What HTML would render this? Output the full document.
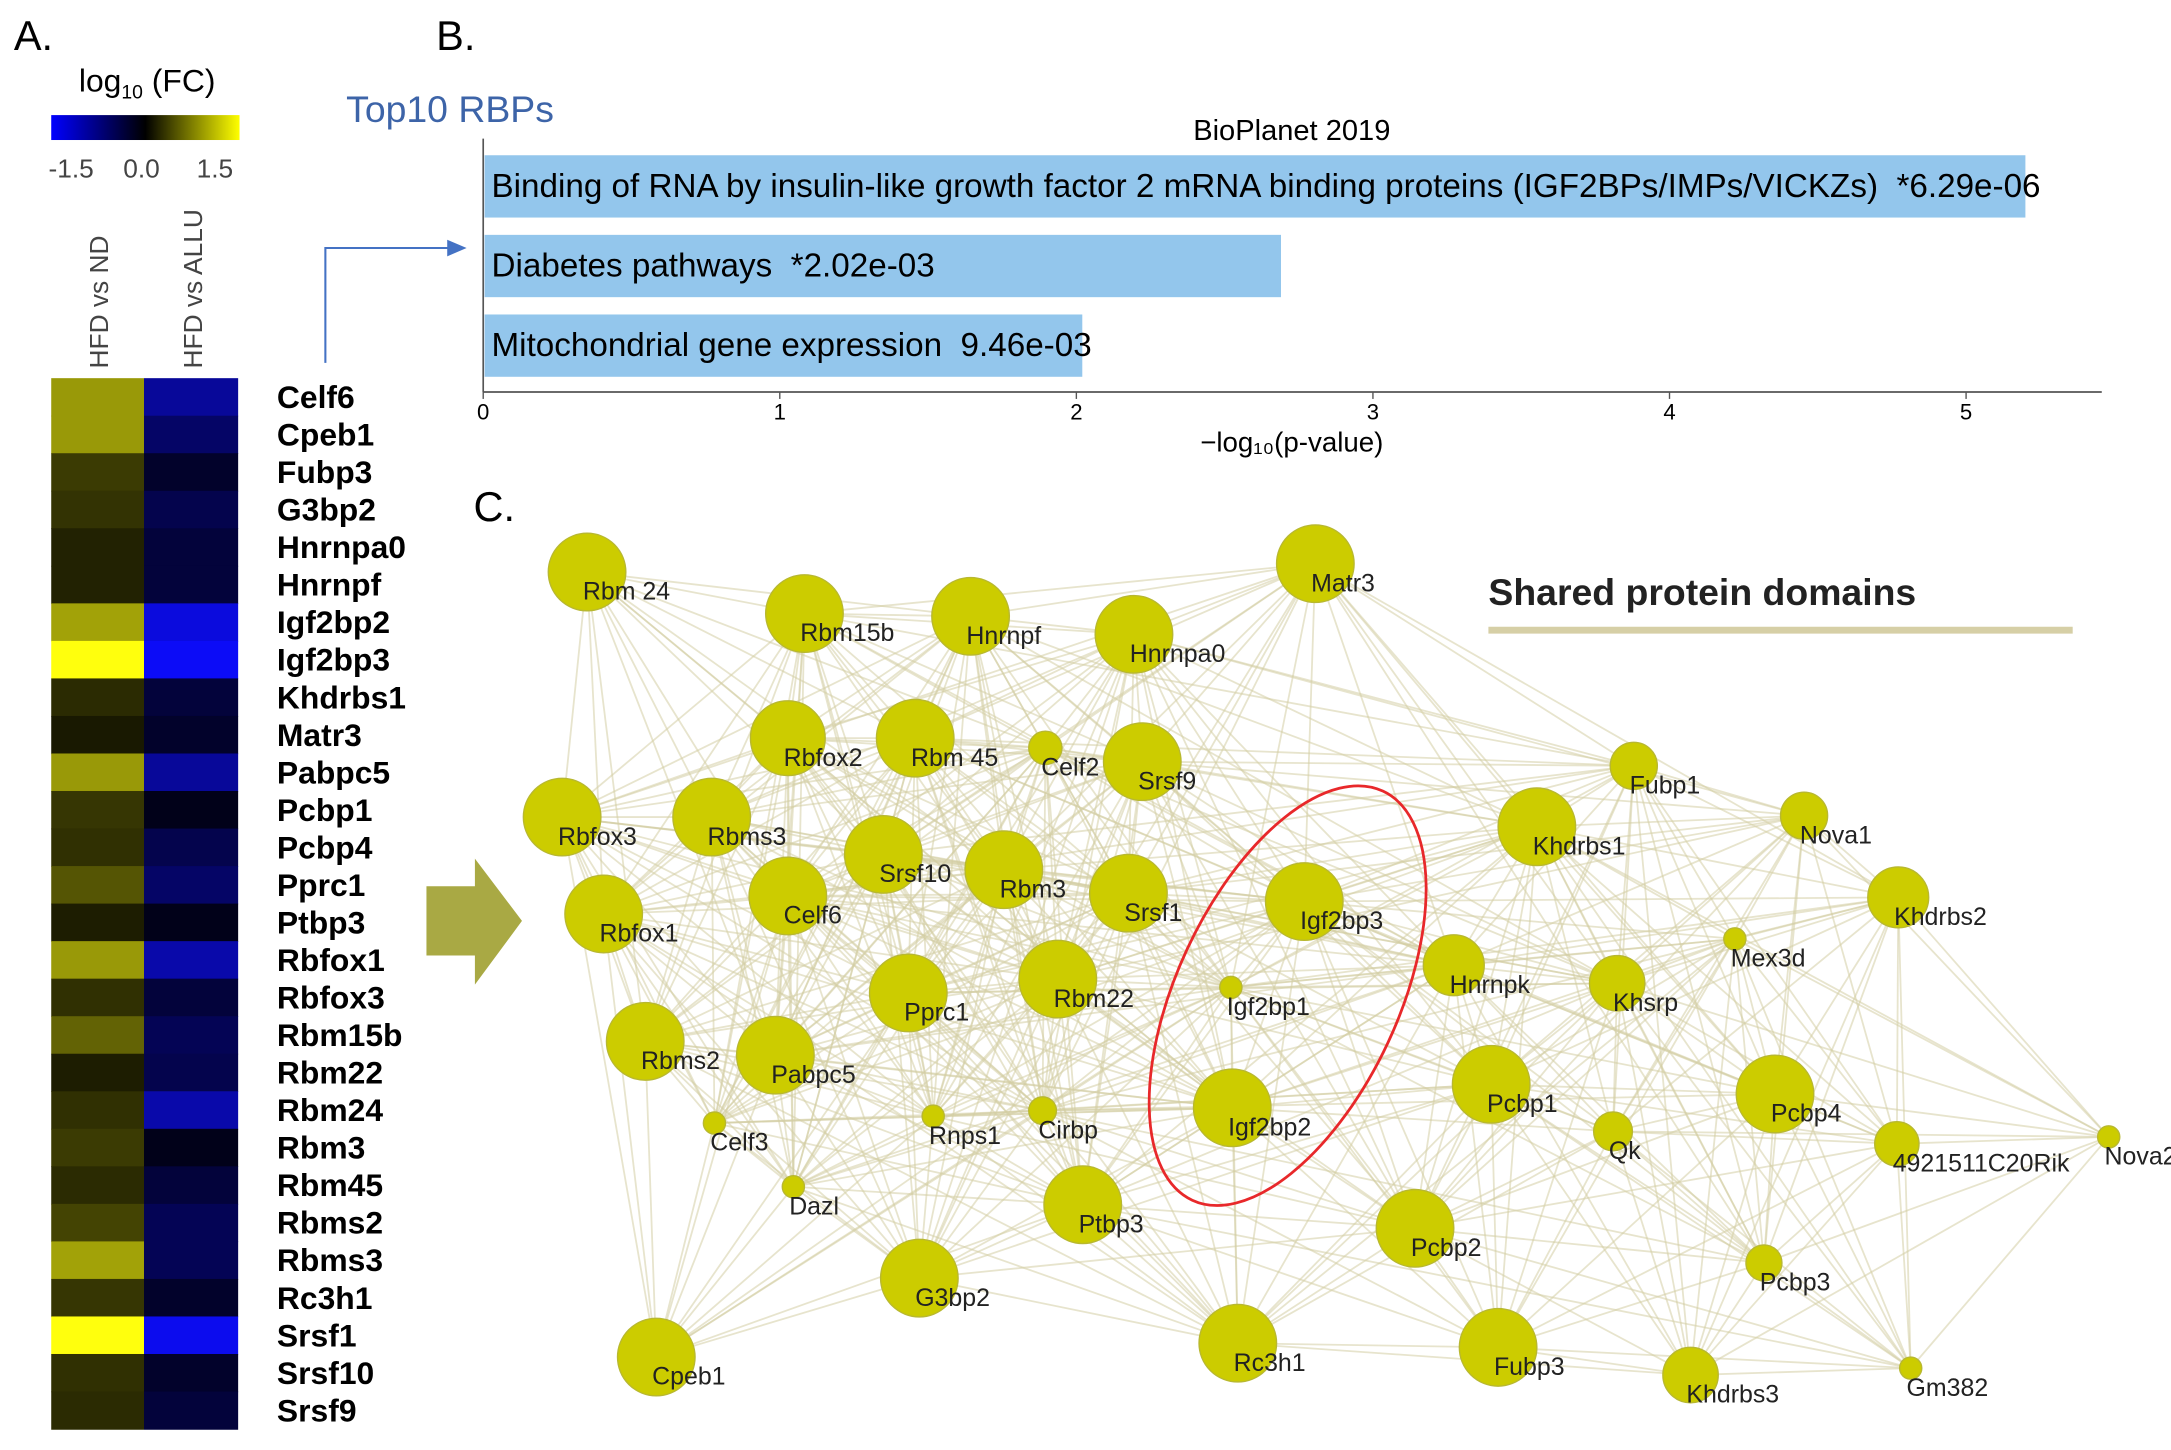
<!DOCTYPE html>
<html><head><meta charset="utf-8"><style>
html,body{margin:0;padding:0;background:#fff}
svg{display:block}
text{font-family:"Liberation Sans",Arial,sans-serif}
</style></head><body>
<svg id="fig" width="2171" height="1450" viewBox="0 0 1568 1047" xmlns="http://www.w3.org/2000/svg">
<defs>
<linearGradient id="cb" x1="0" x2="1" y1="0" y2="0">
<stop offset="0" stop-color="#0000ff"/><stop offset="0.5" stop-color="#000000"/><stop offset="1" stop-color="#ffff00"/>
</linearGradient>
</defs>
<text x="10" y="36" font-size="30">A.</text>
<text x="315" y="36" font-size="30">B.</text>
<text x="342" y="376" font-size="30">C.</text>
<g>
<text x="57" y="66" font-size="23">log<tspan font-size="14" dy="5">10</tspan><tspan dy="-5"> (FC)</tspan></text>
<rect x="37" y="83" width="136" height="18" fill="url(#cb)"/>
<text x="35" y="128" font-size="19" fill="#444">-1.5</text>
<text x="89" y="128" font-size="19" fill="#444">0.0</text>
<text x="142" y="128" font-size="19" fill="#444">1.5</text>
</g>
<text transform="translate(78,266) rotate(-90)" font-size="19" fill="#444">HFD vs ND</text>
<text transform="translate(146,266) rotate(-90)" font-size="19" fill="#444">HFD vs ALLU</text>
<g id="heat"></g>
<path d="M235 262 V179 H330" fill="none" stroke="#4472c4" stroke-width="1.5"/>
<polygon points="323,173 337,179 323,185" fill="#4472c4"/>
<polygon points="308,640 343,640 343,620 377,665 343,711 343,690 308,690" fill="#a9a944"/>
<text x="250" y="88" font-size="27" fill="#3d64a8">Top10 RBPs</text>
<text x="933" y="101" font-size="21" text-anchor="middle">BioPlanet 2019</text>
<g id="bars"></g>
<g id="net"></g>
<text x="1075" y="437" font-size="27" font-weight="bold" fill="#222">Shared protein domains</text>
<line x1="1075" y1="455" x2="1497" y2="455" stroke="#d6cfa6" stroke-width="5"/>
<ellipse cx="930" cy="719" rx="80" ry="163" transform="rotate(25 930 719)" fill="none" stroke="#e8282a" stroke-width="2"/>
</svg>
<script>
const NS="http://www.w3.org/2000/svg";
function mk(tag,attrs,parent){const e=document.createElementNS(NS,tag);for(const k in attrs)e.setAttribute(k,attrs[k]);parent.appendChild(e);return e;}
// Heatmap data
const genes=["Celf6","Cpeb1","Fubp3","G3bp2","Hnrnpa0","Hnrnpf","Igf2bp2","Igf2bp3","Khdrbs1","Matr3","Pabpc5","Pcbp1","Pcbp4","Pprc1","Ptbp3","Rbfox1","Rbfox3","Rbm15b","Rbm22","Rbm24","Rbm3","Rbm45","Rbms2","Rbms3","Rc3h1","Srsf1","Srsf10","Srsf9"];
const fcND=[0.9,0.9,0.35,0.3,0.2,0.2,0.95,1.5,0.25,0.15,0.9,0.32,0.28,0.5,0.17,0.9,0.28,0.58,0.17,0.28,0.35,0.25,0.4,0.95,0.32,1.5,0.28,0.25];
const fcALLU=[-0.9,-0.6,-0.25,-0.45,-0.35,-0.35,-1.3,-1.45,-0.35,-0.25,-0.9,-0.15,-0.45,-0.6,-0.15,-1.0,-0.35,-0.5,-0.45,-1.0,-0.15,-0.35,-0.5,-0.5,-0.25,-1.4,-0.25,-0.35];
function col(v){v=Math.max(-1.5,Math.min(1.5,v))/1.5;if(v>=0){const c=Math.round(255*v);return `rgb(${c},${c},${Math.round(c*0.05)})`;}const b=Math.round(255*-v);return `rgb(${Math.round(b*0.05)},${Math.round(b*0.05)},${b})`;}
const heat=document.getElementById('heat');
const hy0=273,hh=759/genes.length;
genes.forEach((g,i)=>{
 const y=hy0+i*hh;
 const a=mk('rect',{x:37,y:y,width:67,height:hh+0.5,fill:col(fcND[i])},heat);
 
 
 const b=mk('rect',{x:104,y:y,width:68,height:hh+0.5,fill:col(fcALLU[i])},heat);
 
 
 const t=mk('text',{x:200,y:y+hh/2+8,'font-size':23,'font-weight':'bold'},heat);t.textContent=g;
 
 
});
// Bar chart data
const barLabels=["Binding of RNA by insulin-like growth factor 2 mRNA binding proteins (IGF2BPs/IMPs/VICKZs)  *6.29e-06","Diabetes pathways  *2.02e-03","Mitochondrial gene expression  9.46e-03"];
const barValues=[5.2,2.69,2.02];
const xTicks=[0,1,2,3,4,5];
const bars=document.getElementById('bars');
const xs=v=>349+v*214.2;
mk('line',{x1:349,y1:100,x2:349,y2:283,stroke:'#555','stroke-width':1.2},bars);
mk('line',{x1:349,y1:283,x2:1518,y2:283,stroke:'#555','stroke-width':1.2},bars);
barValues.forEach((v,i)=>{
 const y=112+i*57.5;
 const r=mk('rect',{x:350,y:y,width:xs(v)-350,height:45,fill:'#93c6ec'},bars);
 
 
 const t=mk('text',{x:355,y:y+30,'font-size':24,'xml:space':'preserve'},bars);t.textContent=barLabels[i];
 t.style.whiteSpace='pre';
 
 
});
xTicks.forEach(v=>{
 mk('line',{x1:xs(v),y1:283,x2:xs(v),y2:288,stroke:'#555'},bars);
 const t=mk('text',{x:xs(v),y:303,'font-size':16,'text-anchor':'middle'},bars);t.textContent=v;
 
 
});
const xl=mk('text',{x:933,y:326,'font-size':20,'text-anchor':'middle'},bars);xl.textContent="\u2212log\u2081\u2080(p-value)";


// Network
const nodes=[["Rbm 24",424,413,28],["Rbm15b",581,443,28],["Hnrnpf",701,445,28],["Hnrnpa0",819,458,28],["Matr3",950,407,28],["Rbfox2",569,533,27],["Rbm 45",661,533,28],["Celf2",755,540,12],["Srsf9",825,550,28],["Rbfox3",406,590,28],["Rbms3",514,590,28],["Srsf10",638,617,28],["Rbm3",725,628,28],["Srsf1",815,645,28],["Igf2bp3",942,651,28],["Rbfox1",436,660,28],["Celf6",569,647,28],["Pprc1",656,717,28],["Rbm22",764,707,28],["Igf2bp1",889,713,8],["Rbms2",466,752,28],["Pabpc5",560,762,28],["Celf3",516,811,8],["Rnps1",674,806,8],["Cirbp",753,802,10],["Igf2bp2",890,800,28],["Dazl",573,857,8],["Ptbp3",782,870,28],["G3bp2",664,923,28],["Cpeb1",474,980,28],["Rc3h1",894,970,28],["Fubp1",1180,553,17],["Khdrbs1",1110,597,28],["Nova1",1303,589,17],["Khdrbs2",1371,648,22],["Mex3d",1253,678,8],["Hnrnpk",1050,697,22],["Khsrp",1168,710,20],["Pcbp1",1077,783,28],["Pcbp4",1282,790,28],["Qk",1165,817,14],["4921511C20Rik",1370,826,16],["Nova2",1523,821,8],["Pcbp2",1022,887,28],["Pcbp3",1274,912,13],["Fubp3",1082,973,28],["Khdrbs3",1221,993,20],["Gm382",1380,988,8]];
const net=document.getElementById('net');
const eg=mk('g',{stroke:'#d4cda4','stroke-width':1.3,'stroke-opacity':0.55},net);


for(let i=0;i<nodes.length;i++)for(let j=i+1;j<nodes.length;j++){
 const a=nodes[i],b=nodes[j];const d=Math.hypot(a[1]-b[1],a[2]-b[2]);
 if(d<380||((i*7+j*3)%5===0&&d<650)){mk('line',{x1:a[1],y1:a[2],x2:b[1],y2:b[2]},eg);}
}
nodes.forEach(n=>{
 const c=mk('circle',{cx:n[1],cy:n[2],r:n[3],fill:'#cccc00',stroke:'#b8b830','stroke-width':1},net);
 
 
 const t=mk('text',{x:n[1]-3,y:n[2]+20,'font-size':18,fill:'#222'},net);t.textContent=n[0];
 
 
});
</script>
</body></html>
